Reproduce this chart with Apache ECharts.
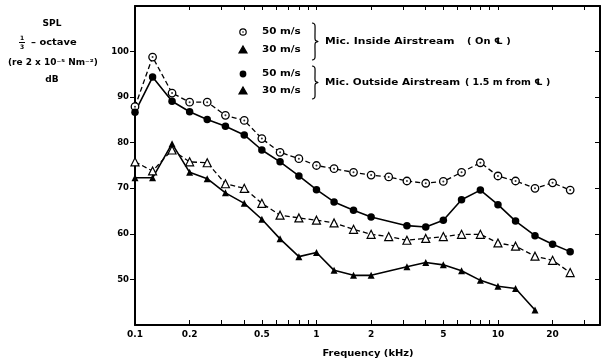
<!DOCTYPE html>
<html><head><meta charset="utf-8">
<script src="https://cdn.jsdelivr.net/npm/echarts@6/dist/echarts.min.js"></script>
<style>html,body{margin:0;padding:0;background:#fff}#c{width:601px;height:362px}</style>
</head><body><div id="c"></div>
<script>
const freqs = [0.1,0.125,0.16,0.2,0.25,0.315,0.4,0.5,0.63,0.8,1,1.25,1.6,2,2.5,3.15,4,5,6.3,8,10,12.5,16,20,25];
const inside50  = [87.9,98.8,90.9,88.9,88.9,86.0,84.9,80.9,77.9,76.5,75.0,74.3,73.5,72.9,72.5,71.6,71.1,71.5,73.5,75.6,72.7,71.6,70.0,71.2,69.6];
const inside30  = [75.8,73.8,78.4,75.8,75.6,71.0,70.0,66.7,64.1,63.5,63.0,62.4,61.0,59.9,59.4,58.6,59.0,59.4,59.9,59.9,58.0,57.3,55.1,54.2,51.5];
const outside50 = [86.7,94.4,89.1,86.8,85.1,83.6,81.7,78.4,75.8,72.7,69.7,67.0,65.2,63.7,null,61.8,61.5,63.0,67.5,69.6,66.4,62.8,59.6,57.7,56.1];
const outside30 = [72.3,72.3,79.8,73.5,72.1,69.0,66.7,63.2,58.9,55.0,55.9,52.0,50.9,50.9,null,52.8,53.7,53.2,51.9,49.8,48.5,48.0,43.3,null,null];
const xLabels = [0.1,0.2,0.5,1,2,5,10,20];
const xTicks = [0.2,0.3,0.4,0.5,0.6,0.7,0.8,0.9,1,2,3,4,5,6,7,8,9,10,20,30];
const yLabels = [50,60,70,80,90,100];
const xMin = 0.1, xMax = 36.5;

const FONT = 'DejaVu Sans';
const lg = v => Math.log10(v);
const pts = vals => freqs.map((f,i)=>[lg(f), vals[i]]).filter(d=>d[1]!=null);
const fmtX = v => { let best = xLabels[0]; xLabels.forEach(l=>{ if (Math.abs(lg(l)-v) < Math.abs(lg(best)-v)) best = l; }); return String(best); };

const axisBase = {
  type:'value', min: lg(xMin), max: lg(xMax), splitLine:{show:false},
  axisLine:{show:true, onZero:false, lineStyle:{color:'#000', width:2}},
};
const chart = echarts.init(document.getElementById('c'), null, {renderer:'canvas'});
const txt = (text, x, y, size, align, sx) => ({
  type:'text', x, y, scaleX: sx||1, silent:true,
  style:{text, fill:'#000', fontFamily:FONT, fontWeight:'bold', fontSize:size,
    align:align||'left', verticalAlign:'middle', textAlign:align||'left', textVerticalAlign:'middle'}
});
const tri = (cx, cy, filled) => ({type:'polygon', silent:true, shape:{points:[[cx,cy-4],[cx+4,cy+3],[cx-4,cy+3]]}, style:{fill: filled?'#000':'#fff', stroke:'#000', lineWidth:1.2}});
const brace = (x, top, bot) => {
  const m = (top+bot)/2;
  return {type:'polyline', silent:true, shape:{points:[
    [x,top],[x+2,top+0.6],[x+3,top+2.5],[x+3,m-3],[x+3.6,m-1],[x+6,m],[x+3.6,m+1],[x+3,m+3],[x+3,bot-2.5],[x+2,bot-0.6],[x,bot]
  ], smooth:0.25}, style:{stroke:'#000', lineWidth:1.2, fill:null}};
};

chart.setOption({
  animation:false,
  backgroundColor:'#fff',
  grid:{left:135, right:1, top:6, bottom:37},
  xAxis:[
    Object.assign({}, axisBase, {position:'bottom',
      axisTick:{show:true, inside:true, length:5, customValues:xTicks.map(lg), lineStyle:{color:'#000', width:1}},
      axisLabel:{show:true, customValues:xLabels.map(lg), formatter:fmtX, color:'#000', fontFamily:FONT, fontWeight:'bold', fontSize:9, margin:5}
    }),
    Object.assign({}, axisBase, {position:'top',
      axisTick:{show:true, inside:true, length:4, customValues:xTicks.map(lg), lineStyle:{color:'#000', width:1}},
      axisLabel:{show:false}
    })
  ],
  yAxis:[
    {type:'value', min:40, max:110, position:'left', splitLine:{show:false},
     axisLine:{show:true, onZero:false, lineStyle:{color:'#000', width:2}},
     axisTick:{show:true, inside:false, length:5, customValues:yLabels, lineStyle:{color:'#000', width:1}},
     axisLabel:{show:true, customValues:yLabels, color:'#000', fontFamily:FONT, fontWeight:'bold', fontSize:8.5, margin:6}},
    {type:'value', min:40, max:110, position:'right', splitLine:{show:false},
     axisLine:{show:true, onZero:false, lineStyle:{color:'#000', width:2}},
     axisTick:{show:true, inside:true, length:5, customValues:yLabels, lineStyle:{color:'#000', width:1}},
     axisLabel:{show:false}}
  ],
  series:[
    {name:'50 m/s Mic. Inside Airstream', type:'line', data:pts(inside50), symbol:'circle', symbolSize:7.5,
     itemStyle:{color:'#fff', borderColor:'#000', borderWidth:1.3}, lineStyle:{color:'#000', width:1.3, type:[5,3]}, z:3},
    {name:'inside50dot', type:'scatter', data:pts(inside50), symbol:'circle', symbolSize:2, itemStyle:{color:'#000'}, z:4, silent:true},
    {name:'30 m/s Mic. Inside Airstream', type:'line', data:pts(inside30), symbol:'triangle', symbolSize:8,
     itemStyle:{color:'#fff', borderColor:'#000', borderWidth:1.2}, lineStyle:{color:'#000', width:1.3, type:[5,3]}, z:3},
    {name:'50 m/s Mic. Outside Airstream', type:'line', data:pts(outside50), symbol:'circle', symbolSize:7.5,
     itemStyle:{color:'#000'}, lineStyle:{color:'#000', width:1.6}, z:3},
    {name:'30 m/s Mic. Outside Airstream', type:'line', data:pts(outside30), symbol:'triangle', symbolSize:7,
     itemStyle:{color:'#000'}, lineStyle:{color:'#000', width:1.6}, z:3}
  ],
  graphic:[
    txt('SPL', 52, 24, 9, 'center'),
    txt('1', 22, 38, 6, 'center'),
    {type:'line', silent:true, shape:{x1:19, y1:42.5, x2:25, y2:42.5}, style:{stroke:'#000', lineWidth:1}},
    txt('3', 22, 47, 6, 'center'),
    txt('– octave', 31, 43, 9, 'left', 1.1),
    txt('(re 2 x 10⁻⁵ Nm⁻²)', 8, 63, 8, 'left', 1.12),
    txt('dB', 52, 80, 9, 'center'),
    {type:'circle', silent:true, shape:{cx:243, cy:32, r:3.2}, style:{fill:'#fff', stroke:'#000', lineWidth:1.2}},
    {type:'circle', silent:true, shape:{cx:243, cy:32, r:0.8}, style:{fill:'#000'}},
    txt('50 m/s', 262, 32, 9, 'left', 1.15),
    tri(243, 50, true),
    txt('30 m/s', 262, 50, 9, 'left', 1.15),
    brace(312, 23, 60),
    txt('Mic. Inside Airstream', 325, 42, 9, 'left', 1.2),
    txt('( On ℄ )', 467, 42, 9, 'left', 1.1),
    {type:'circle', silent:true, shape:{cx:243, cy:74, r:3.4}, style:{fill:'#000'}},
    txt('50 m/s', 262, 74, 9, 'left', 1.15),
    tri(243, 91, true),
    txt('30 m/s', 262, 91, 9, 'left', 1.15),
    brace(312, 66, 99),
    txt('Mic. Outside Airstream', 325, 83, 9, 'left', 1.16),
    txt('( 1.5 m from ℄ )', 465, 83, 9, 'left', 1.05),
    txt('Frequency (kHz)', 368, 354, 9, 'center', 1.1)
  ]
});
</script></body></html>
